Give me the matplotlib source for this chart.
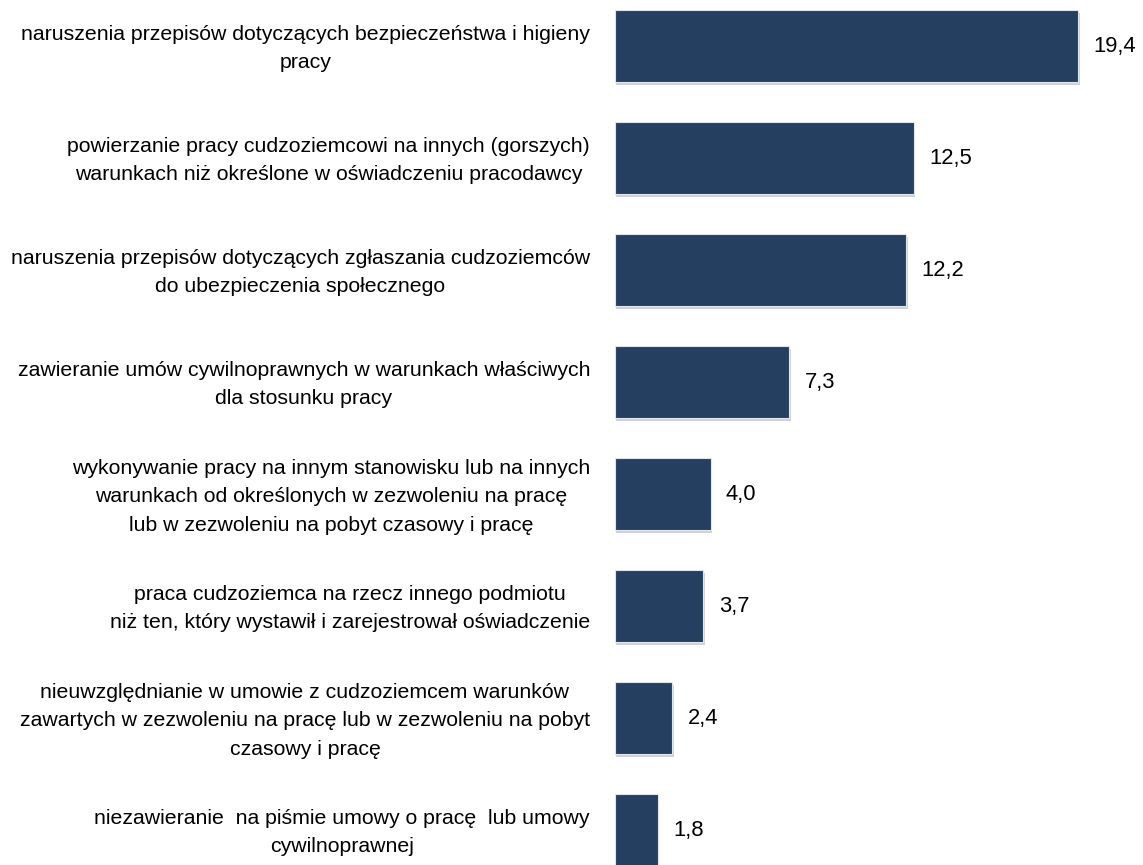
import matplotlib
matplotlib.use('Agg')
from matplotlib import pyplot as plt
import matplotlib.patheffects as pe

plt.rcParams['font.family'] = ['Liberation Sans', 'DejaVu Sans']

# values in %
labels = [
    'naruszenia przepisów dotyczących bezpieczeństwa i higieny\npracy',
    'powierzanie pracy cudzoziemcowi na innych (gorszych)\nwarunkach niż określone w oświadczeniu pracodawcy',
    'naruszenia przepisów dotyczących zgłaszania cudzoziemców\ndo ubezpieczenia społecznego',
    'zawieranie umów cywilnoprawnych w warunkach właściwych\ndla stosunku pracy',
    'wykonywanie pracy na innym stanowisku lub na innych\nwarunkach od określonych w zezwoleniu na pracę\nlub w zezwoleniu na pobyt czasowy i pracę',
    'praca cudzoziemca na rzecz innego podmiotu\nniż ten, który wystawił i zarejestrował oświadczenie',
    'nieuwzględnianie w umowie z cudzoziemcem warunków\nzawartych w zezwoleniu na pracę lub w zezwoleniu na pobyt\nczasowy i pracę',
    'niezawieranie  na piśmie umowy o pracę  lub umowy\ncywilnoprawnej',
]
values = [19.4, 12.5, 12.2, 7.3, 4.0, 3.7, 2.4, 1.8]
value_labels = ['19,4', '12,5', '12,2', '7,3', '4,0', '3,7', '2,4', '1,8']

fig = plt.figure(figsize=(11.43, 8.65), dpi=100)
ax = fig.add_axes([615 / 1143, 0, 528 / 1143, 1])

pos = list(range(len(values)))
bars = ax.barh(pos, values, height=0.64, color='#243f5f', edgecolor='#dfe5ec', linewidth=0.8)
for b in bars:
    b.set_path_effects([pe.SimplePatchShadow(offset=(1, -2), shadow_rgbFace='#909090', alpha=0.4),
                        pe.Normal()])

ax.set_xlim(0, 22.1)
ax.set_ylim(7.3125, -0.411)
ax.axis('off')

for p, v, t in zip(pos, values, value_labels):
    ax.annotate(t, (v, p), xytext=(11, 0), textcoords='offset points',
                va='center', ha='left', fontsize=15.8, color='black')

for p, lab in zip(pos, labels):
    ax.annotate(lab, (0, p), xytext=(-18, -2), textcoords='offset points',
                va='center', ha='right', multialignment='center', linespacing=1.62,
                fontsize=15.3, color='black', annotation_clip=False)

fig.savefig('out.png', dpi=100)
